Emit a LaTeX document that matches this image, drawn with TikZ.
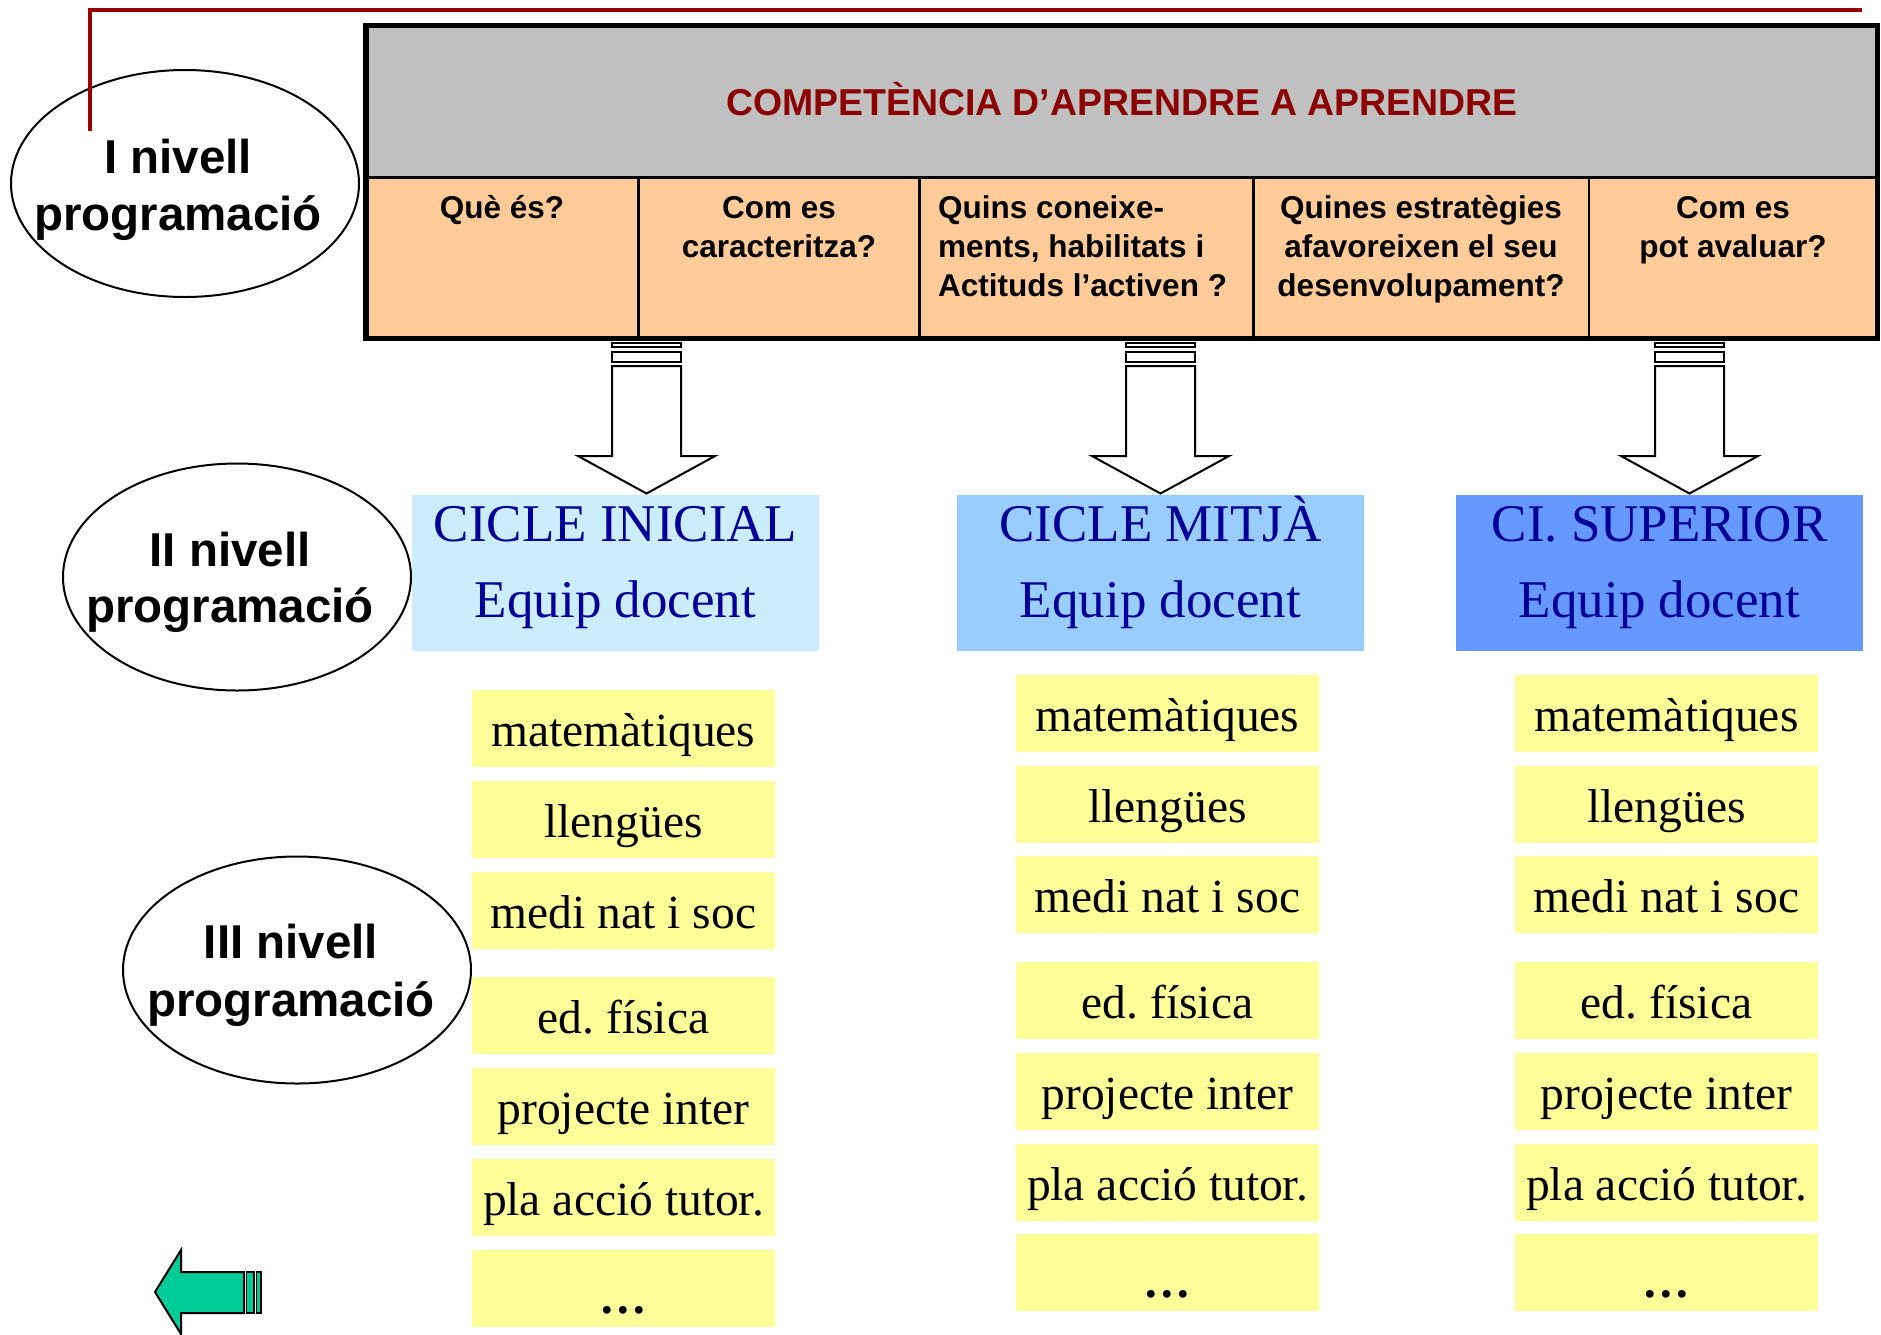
\documentclass[tikz,border=0pt]{standalone}
\usepackage{fontspec}
\setmainfont{Liberation Serif}
\newfontfamily\arialf{Liberation Sans}
\usetikzlibrary{shapes.geometric}
\frenchspacing
\definecolor{redline}{HTML}{990000}
\definecolor{headtxt}{HTML}{8B0000}
\definecolor{greyhead}{HTML}{C0C0C0}
\definecolor{orangecell}{HTML}{FFCC99}
\definecolor{ciblueA}{HTML}{CCECFF}
\definecolor{ciblueB}{HTML}{99CCFF}
\definecolor{ciblueC}{HTML}{6699FF}
\definecolor{navytxt}{HTML}{000099}
\definecolor{yellowbox}{HTML}{FFFF99}
\definecolor{greenarrow}{HTML}{00CC99}
\newcommand\bigdownarrow[1]{%
  \draw[arrowline] (#1-34.5,342.5) rectangle (#1+34.5,346.7);
  \draw[arrowline] (#1-34.5,351.7) rectangle (#1+34.5,361.7);
  \draw[arrowline] (#1-34.5,366) -- (#1-34.5,456) -- (#1-68.5,456) -- (#1,493.5)
     -- (#1+68.5,456) -- (#1+34.5,456) -- (#1+34.5,366) -- cycle;}
\begin{document}
\begin{tikzpicture}[x=1pt,y=-1pt,
  arrowline/.style={draw=black,fill=white,line width=2pt,line join=miter},
  levelell/.style={draw=black,fill=white,ellipse,line width=2pt,inner sep=0pt,
    minimum width=348pt,minimum height=227pt},
  leveltxt/.style={anchor=base,inner sep=0pt,font=\arialf\bfseries\fontsize{47.5}{57}\selectfont},
  celltxt/.style={anchor=base,inner sep=0pt,font=\arialf\bfseries\fontsize{31.5}{39}\selectfont},
  cellleft/.style={anchor=base west,inner sep=0pt,font=\arialf\bfseries\fontsize{31.5}{39}\selectfont},
  cibox/.style={anchor=north west,inner sep=0pt,minimum width=407pt,minimum height=156pt},
  citxt/.style={anchor=base,inner sep=0pt,text=navytxt,font=\fontsize{53}{60}\selectfont},
  ybox/.style={anchor=north west,inner sep=0pt,fill=yellowbox,minimum width=303pt,minimum height=77pt},
  ytxt/.style={anchor=base,inner sep=0pt,font=\fontsize{47.5}{56}\selectfont}]
\useasboundingbox[fill=white] (0,0) rectangle (1881,1334);

% ---- table ----
\fill[greyhead] (366,25.5) rectangle (1877.5,177.5);
\fill[orangecell] (366,177.5) rectangle (1877.5,338.5);
\foreach \xx in {638.5,919.5,1253.5,1589}{\draw[line width=2.2pt] (\xx,177.5) -- (\xx,338.5);}
\draw[line width=3pt] (366,177.5) -- (1877.5,177.5);
\draw[line width=5.5pt] (366,25.5) rectangle (1877.5,338.5);
\node[anchor=base,inner sep=0pt,text=headtxt,font=\arialf\bfseries\fontsize{37.4}{44}\selectfont]
  (title) at (1122,115) {COMPETÈNCIA D’APRENDRE A APRENDRE};

\node[celltxt] (c1a) at (502,218) {Què és?};
\node[celltxt] (c2a) at (779,218) {Com es};
\node[celltxt] (c2b) at (779,257) {caracteritza?};
\node[cellleft] (c3a) at (938,218) {Quins coneixe-};
\node[cellleft] (c3b) at (938,257) {ments, habilitats i};
\node[cellleft] (c3c) at (938,296) {Actituds l’activen ?};
\node[celltxt] (c4a) at (1421,218) {Quines estratègies};
\node[celltxt] (c4b) at (1421,257) {afavoreixen el seu};
\node[celltxt] (c4c) at (1421,296) {desenvolupament?};
\node[celltxt] (c5a) at (1733,218) {Com es};
\node[celltxt] (c5b) at (1733,257) {pot avaluar?};

% ---- level ellipses ----
\node[levelell] (lv1) at (185,183.5) {};
\node[leveltxt] (lv1a) at (178,173) {I nivell};
\node[leveltxt] (lv1b) at (178,230) {programació};
\node[levelell] (lv2) at (237,577) {};
\node[leveltxt] (lv2a) at (230,566) {II nivell};
\node[leveltxt] (lv2b) at (230,622) {programació};
\node[levelell] (lv3) at (297,970) {};
\node[leveltxt] (lv3a) at (291,958) {III nivell};
\node[leveltxt] (lv3b) at (291,1016) {programació};

% ---- red line ----
\draw[redline,line width=4pt] (90,131) -- (90,10) -- (1862,10);

% ---- cycle boxes ----
\node[cibox,fill=ciblueA] (ci1) at (412,495) {};
\node[cibox,fill=ciblueB] (ci2) at (957,495) {};
\node[cibox,fill=ciblueC] (ci3) at (1456,495) {};
\node[citxt] (ci1a) at (615.5,541) {CICLE INICIAL};
\node[citxt] (ci1b) at (615.5,617) {Equip docent};
\node[citxt] (ci2a) at (1160.5,541) {CICLE MITJÀ};
\node[citxt] (ci2b) at (1160.5,617) {Equip docent};
\node[citxt] (ci3a) at (1659.5,541) {CI. SUPERIOR};
\node[citxt] (ci3b) at (1659.5,617) {Equip docent};

% ---- block arrows ----
\bigdownarrow{646.5}
\bigdownarrow{1160.5}
\bigdownarrow{1689.5}

% ---- subject boxes ----
\foreach \cx/\tops/\col in {472/{690,781,872,977,1068,1159,1250}/1,
                          1016/{675,766,856,962,1053,1144,1234}/2,
                          1515/{675,766,856,962,1053,1144,1234}/3}{
  \foreach \tp [count=\i] in \tops {
    \node[ybox] (y\col\i) at (\cx,\tp) {};
  }
}
\foreach \lx/\tops/\col in {623.5/{690,781,872,977,1068,1159,1250}/1,
                          1167.5/{675,766,856,962,1053,1144,1234}/2,
                          1666.5/{675,766,856,962,1053,1144,1234}/3}{
  \foreach \tp/\lbl [count=\i] in {0/matemàtiques,1/llengües,2/medi nat i soc,3/ed. física,4/projecte inter,5/pla acció tutor.}{
    \pgfmathsetmacro\ty{{\tops}[\tp]+56}
    \node[ytxt] (t\col\i) at (\lx,\ty) {\lbl};
  }
  \pgfmathsetmacro\ty{{\tops}[6]+63}
  \node[ytxt] (t\col7) at (\lx,\ty) {\bfseries …};
}

% ---- green back arrow ----
\filldraw[fill=greenarrow,draw=black,line width=2pt,line join=miter]
  (244,1272) -- (181,1272) -- (181,1250) -- (155,1292) -- (181,1334) -- (181,1313) -- (244,1313) -- cycle;
\filldraw[fill=greenarrow,draw=black,line width=1.5pt] (246.5,1272) rectangle (254,1313);
\filldraw[fill=greenarrow,draw=black,line width=1.5pt] (256.5,1272) rectangle (261,1313);
\end{tikzpicture}
\end{document}
